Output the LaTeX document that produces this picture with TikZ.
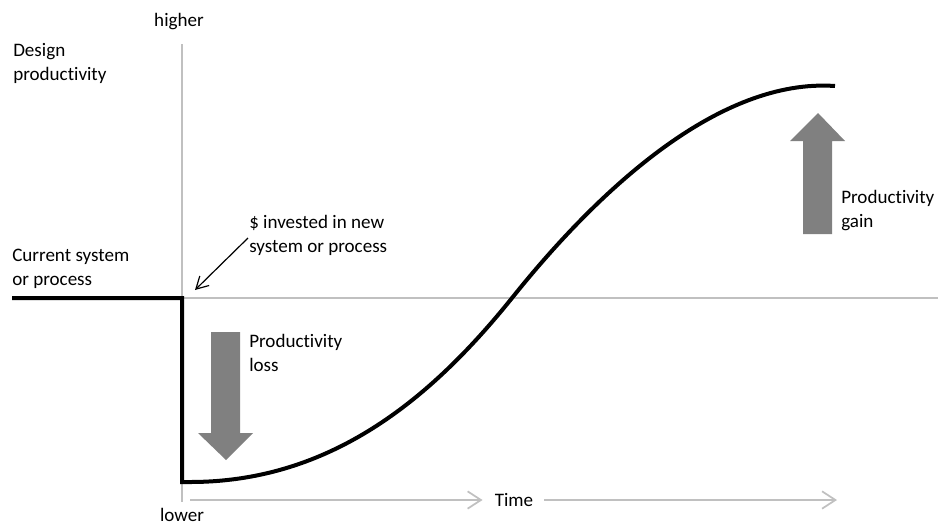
\documentclass[tikz,border=0pt]{standalone}
\usepackage{fontspec}
\setmainfont{Carlito}[Ligatures=NoCommon]
\usetikzlibrary{arrows.meta}
\definecolor{axisgray}{RGB}{192,192,192}
\definecolor{arrowgray}{RGB}{128,128,128}
\tikzset{
  lbl/.style={inner sep=0pt, align=left, font=\fontsize{14.3}{18}\selectfont},
  axisline/.style={draw=axisgray, line width=2.2pt},
  timeline/.style={draw=axisgray, line width=1.3pt, -{Straight Barb[length=10pt,width=13pt,line width=1.3pt]}},
  bigarrow/.style={fill=arrowgray},
}
\begin{document}
\begin{tikzpicture}[x=0.75pt, y=-0.75pt]
\useasboundingbox (0,0) rectangle (938,525);

% Axes
\coordinate (top) at (182,44);
\coordinate (corner) at (182,298);
\coordinate (bottom) at (182,502);
\draw[axisline] (top) -- (bottom);
\draw[axisline] (corner) -- (938,298);

\node[lbl] (higher) at (179,22) {higher};
\node[lbl] (lower) at (182,515) {lower};
\node[lbl, anchor=west] (ylabel) at (13,63) {Design\\productivity};
\node[lbl, anchor=west] (current) at (12,269) {Current system\\or process};

% Productivity curve
\draw[line width=3pt, line join=miter] (12,298) -- (corner) -- (182,482) -- (190,482)
  .. controls (330,482) and (430,400) .. (512,298)
  .. controls (600,188) and (720,78) .. (835,86);

% Gray block arrows
\fill[bigarrow] (211,332) -- (240,332) -- (240,433) -- (253,433) -- (226,460) -- (198,433) -- (211,433) -- cycle;
\fill[bigarrow] (803,234) -- (832,234) -- (832,141) -- (845,141) -- (818,113) -- (790,141) -- (803,141) -- cycle;
\node[lbl, anchor=west] (loss) at (249,353) {Productivity\\loss};
\node[lbl, anchor=west] (gain) at (841,211) {Productivity\\gain};

% Investment point
\node[lbl, anchor=west] (invest) at (249,235) {\$ invested in new\\system or process};
\coordinate (investtip) at (195,290);
\draw[line width=0.9pt, -{Straight Barb[length=9pt,width=10pt,line width=0.9pt]}] (248,238) -- (investtip);

% Time
\node[lbl] (time) at (514,500) {Time};
\coordinate (tstart) at (190,500);
\coordinate (tend) at (837,500);
\draw[timeline] (tstart) -- ([xshift=-9pt]time.west);
\draw[timeline] ([xshift=8pt]time.east) -- (tend);
\end{tikzpicture}
\end{document}
